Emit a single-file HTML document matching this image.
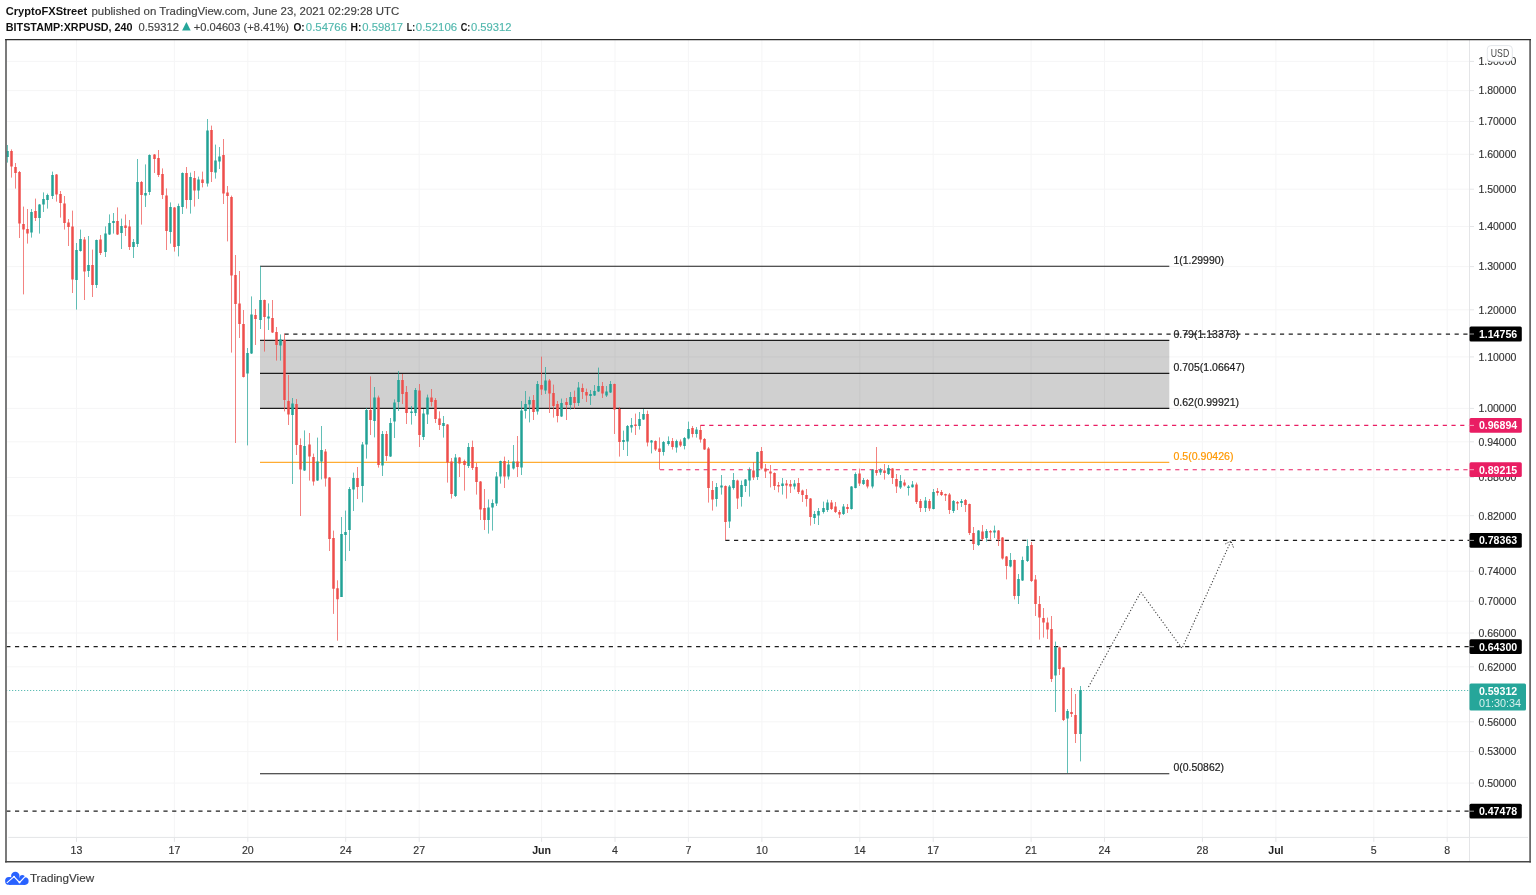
<!DOCTYPE html>
<html lang="en"><head><meta charset="utf-8"><title>XRPUSD chart</title>
<style>
html,body{margin:0;padding:0;background:#fff;}
body{width:1536px;height:895px;overflow:hidden;position:relative;font-family:"Liberation Sans",sans-serif;}
svg{position:absolute;left:0;top:0;display:block;}
text{font-family:"Liberation Sans",sans-serif;}
.ax{font-size:11px;fill:#333;stroke:#333;stroke-width:0.15px;}
.lb{font-size:11px;fill:#fff;}
.fb{font-size:11px;fill:#1c1c1c;stroke:#1c1c1c;stroke-width:0.2px;}
.hd{font-size:11.2px;fill:#424242;stroke:#424242;stroke-width:0.15px;}
.b{font-weight:bold;font-size:11.5px;fill:#111;stroke:none;}
.t{fill:#52b8ae;stroke:#52b8ae;}
</style></head><body>
<svg width="1536" height="895" viewBox="0 0 1536 895">
<rect x="0" y="0" width="1536" height="895" fill="#fff"/>

<g stroke="#f5f5f6" stroke-width="1">
<line x1="6.2" y1="61.4" x2="1469.5" y2="61.4"/>
<line x1="6.2" y1="90.6" x2="1469.5" y2="90.6"/>
<line x1="6.2" y1="121.5" x2="1469.5" y2="121.5"/>
<line x1="6.2" y1="154.3" x2="1469.5" y2="154.3"/>
<line x1="6.2" y1="189.2" x2="1469.5" y2="189.2"/>
<line x1="6.2" y1="226.5" x2="1469.5" y2="226.5"/>
<line x1="6.2" y1="266.6" x2="1469.5" y2="266.6"/>
<line x1="6.2" y1="309.8" x2="1469.5" y2="309.8"/>
<line x1="6.2" y1="356.9" x2="1469.5" y2="356.9"/>
<line x1="6.2" y1="408.4" x2="1469.5" y2="408.4"/>
<line x1="6.2" y1="441.8" x2="1469.5" y2="441.8"/>
<line x1="6.2" y1="477.5" x2="1469.5" y2="477.5"/>
<line x1="6.2" y1="515.7" x2="1469.5" y2="515.7"/>
<line x1="6.2" y1="571.2" x2="1469.5" y2="571.2"/>
<line x1="6.2" y1="601.2" x2="1469.5" y2="601.2"/>
<line x1="6.2" y1="633.0" x2="1469.5" y2="633.0"/>
<line x1="6.2" y1="666.8" x2="1469.5" y2="666.8"/>
<line x1="6.2" y1="721.8" x2="1469.5" y2="721.8"/>
<line x1="6.2" y1="751.6" x2="1469.5" y2="751.6"/>
<line x1="6.2" y1="783.1" x2="1469.5" y2="783.1"/>
<line x1="76.5" y1="39.6" x2="76.5" y2="837.4"/>
<line x1="174.4" y1="39.6" x2="174.4" y2="837.4"/>
<line x1="247.8" y1="39.6" x2="247.8" y2="837.4"/>
<line x1="345.7" y1="39.6" x2="345.7" y2="837.4"/>
<line x1="419.2" y1="39.6" x2="419.2" y2="837.4"/>
<line x1="541.6" y1="39.6" x2="541.6" y2="837.4"/>
<line x1="615.0" y1="39.6" x2="615.0" y2="837.4"/>
<line x1="688.4" y1="39.6" x2="688.4" y2="837.4"/>
<line x1="761.9" y1="39.6" x2="761.9" y2="837.4"/>
<line x1="859.8" y1="39.6" x2="859.8" y2="837.4"/>
<line x1="933.2" y1="39.6" x2="933.2" y2="837.4"/>
<line x1="1031.1" y1="39.6" x2="1031.1" y2="837.4"/>
<line x1="1104.5" y1="39.6" x2="1104.5" y2="837.4"/>
<line x1="1202.4" y1="39.6" x2="1202.4" y2="837.4"/>
<line x1="1275.9" y1="39.6" x2="1275.9" y2="837.4"/>
<line x1="1373.8" y1="39.6" x2="1373.8" y2="837.4"/>
<line x1="1447.2" y1="39.6" x2="1447.2" y2="837.4"/>
</g>
<g stroke="#e4e5e7" stroke-width="1">
<line x1="1469.5" y1="39.6" x2="1469.5" y2="861.5"/>
<line x1="8.3" y1="837.4" x2="1528" y2="837.4"/>
<line x1="1469.5" y1="61.4" x2="1474.0" y2="61.4"/>
<line x1="1469.5" y1="90.6" x2="1474.0" y2="90.6"/>
<line x1="1469.5" y1="121.5" x2="1474.0" y2="121.5"/>
<line x1="1469.5" y1="154.3" x2="1474.0" y2="154.3"/>
<line x1="1469.5" y1="189.2" x2="1474.0" y2="189.2"/>
<line x1="1469.5" y1="226.5" x2="1474.0" y2="226.5"/>
<line x1="1469.5" y1="266.6" x2="1474.0" y2="266.6"/>
<line x1="1469.5" y1="309.8" x2="1474.0" y2="309.8"/>
<line x1="1469.5" y1="356.9" x2="1474.0" y2="356.9"/>
<line x1="1469.5" y1="408.4" x2="1474.0" y2="408.4"/>
<line x1="1469.5" y1="441.8" x2="1474.0" y2="441.8"/>
<line x1="1469.5" y1="477.5" x2="1474.0" y2="477.5"/>
<line x1="1469.5" y1="515.7" x2="1474.0" y2="515.7"/>
<line x1="1469.5" y1="571.2" x2="1474.0" y2="571.2"/>
<line x1="1469.5" y1="601.2" x2="1474.0" y2="601.2"/>
<line x1="1469.5" y1="633.0" x2="1474.0" y2="633.0"/>
<line x1="1469.5" y1="666.8" x2="1474.0" y2="666.8"/>
<line x1="1469.5" y1="721.8" x2="1474.0" y2="721.8"/>
<line x1="1469.5" y1="751.6" x2="1474.0" y2="751.6"/>
<line x1="1469.5" y1="783.1" x2="1474.0" y2="783.1"/>
<line x1="76.5" y1="837.4" x2="76.5" y2="841.9"/>
<line x1="174.4" y1="837.4" x2="174.4" y2="841.9"/>
<line x1="247.8" y1="837.4" x2="247.8" y2="841.9"/>
<line x1="345.7" y1="837.4" x2="345.7" y2="841.9"/>
<line x1="419.2" y1="837.4" x2="419.2" y2="841.9"/>
<line x1="541.6" y1="837.4" x2="541.6" y2="841.9"/>
<line x1="615.0" y1="837.4" x2="615.0" y2="841.9"/>
<line x1="688.4" y1="837.4" x2="688.4" y2="841.9"/>
<line x1="761.9" y1="837.4" x2="761.9" y2="841.9"/>
<line x1="859.8" y1="837.4" x2="859.8" y2="841.9"/>
<line x1="933.2" y1="837.4" x2="933.2" y2="841.9"/>
<line x1="1031.1" y1="837.4" x2="1031.1" y2="841.9"/>
<line x1="1104.5" y1="837.4" x2="1104.5" y2="841.9"/>
<line x1="1202.4" y1="837.4" x2="1202.4" y2="841.9"/>
<line x1="1275.9" y1="837.4" x2="1275.9" y2="841.9"/>
<line x1="1373.8" y1="837.4" x2="1373.8" y2="841.9"/>
<line x1="1447.2" y1="837.4" x2="1447.2" y2="841.9"/>
</g>
<rect x="260.0" y="340.4" width="909.3" height="68.0" fill="#000" fill-opacity="0.185"/>
<g stroke="#1c1c1c" stroke-width="1.1">
<line x1="260.0" y1="266.3" x2="1169.3" y2="266.3"/>
<line x1="260.0" y1="340.4" x2="1169.3" y2="340.4"/>
<line x1="260.0" y1="373.4" x2="1169.3" y2="373.4"/>
<line x1="260.0" y1="408.4" x2="1169.3" y2="408.4"/>
<line x1="260.0" y1="773.7" x2="1169.3" y2="773.7"/>
</g>
<line x1="260.0" y1="462.3" x2="1169.3" y2="462.3" stroke="#ff9800" stroke-width="1"/>
<line x1="284.5" y1="334.0" x2="1469.5" y2="334.0" stroke="#1e1e1e" stroke-width="1.25" stroke-dasharray="4.2 4.532"/>
<line x1="700.5" y1="425.4" x2="1469.5" y2="425.4" stroke="#e91e63" stroke-width="1.15" stroke-dasharray="4.2 4.532"/>
<line x1="660.0" y1="469.7" x2="1469.5" y2="469.7" stroke="#e91e63" stroke-width="1.15" stroke-dasharray="4.2 4.532"/>
<line x1="725.3" y1="540.4" x2="1469.5" y2="540.4" stroke="#1e1e1e" stroke-width="1.25" stroke-dasharray="4.2 4.532"/>
<line x1="6.24" y1="646.7" x2="1469.5" y2="646.7" stroke="#1e1e1e" stroke-width="1.25" stroke-dasharray="4.2 4.532"/>
<line x1="6.24" y1="811.2" x2="1469.5" y2="811.2" stroke="#1e1e1e" stroke-width="1.25" stroke-dasharray="4.2 4.532"/>
<line x1="6.2" y1="690.5" x2="1469.5" y2="690.5" stroke="#26a69a" stroke-width="1" stroke-dasharray="1 2" opacity="0.9"/>
<path d="M7.50 145.0V162.6M31.50 209.0V237.6M39.50 204.0V233.6M43.50 192.4V212.0M47.50 193.6V208.6M52.50 171.6V199.0M76.50 243.0V309.6M80.50 229.6V251.6M88.50 236.0V277.0M96.50 239.6V288.0M105.50 226.4V257.0M109.50 214.4V235.0M113.50 213.0V233.6M121.50 218.6V249.0M133.50 239.0V258.0M137.50 159.0V247.0M145.50 164.4V207.0M149.50 154.4V195.0M170.50 202.4V243.6M178.50 203.6V256.4M182.50 172.4V214.0M190.50 172.6V213.6M198.50 176.6V199.0M207.50 119.0V186.6M215.50 144.6V178.6M219.50 147.0V169.0M247.50 348.0V445.4M251.50 296.4V354.0M260.50 266.4V329.0M268.50 303.4V330.0M280.50 334.4V360.6M292.50 398.0V484.0M304.50 430.4V471.0M317.50 437.6V481.0M321.50 426.0V479.4M341.50 517.0V597.0M345.50 510.6V561.0M349.50 487.0V551.0M353.50 472.6V511.0M362.50 442.0V502.4M366.50 408.0V458.6M374.50 387.0V437.4M382.50 431.0V476.0M390.50 418.0V457.0M394.50 399.4V438.0M398.50 371.0V411.0M411.50 406.0V424.6M415.50 388.0V416.0M423.50 409.0V440.0M427.50 394.6V424.0M443.50 416.0V437.6M455.50 454.0V497.0M468.50 443.0V468.0M488.50 499.4V533.6M492.50 499.4V530.6M496.50 472.0V506.0M500.50 460.6V483.6M508.50 460.0V479.6M513.50 445.0V469.6M521.50 401.0V475.0M525.50 391.0V418.6M529.50 396.6V422.4M537.50 381.0V414.6M545.50 367.0V394.0M561.50 398.6V417.0M570.50 392.0V409.6M578.50 382.0V406.0M590.50 390.0V405.0M594.50 385.0V396.0M598.50 367.6V392.0M606.50 386.0V397.0M610.50 381.0V393.0M623.50 430.6V450.0M627.50 425.0V456.0M631.50 418.0V432.6M639.50 412.0V429.6M643.50 409.0V420.0M651.50 440.0V453.4M663.50 441.0V455.6M668.50 436.4V445.6M676.50 439.6V452.6M684.50 437.0V449.4M688.50 421.6V439.4M696.50 427.0V437.6M716.50 483.0V506.6M721.50 475.0V494.6M729.50 485.0V528.0M733.50 473.0V489.6M741.50 480.6V506.6M745.50 479.0V492.0M749.50 467.4V496.6M757.50 451.6V480.0M782.50 478.0V494.6M794.50 480.0V489.4M814.50 511.0V524.0M818.50 508.0V525.0M823.50 501.6V513.6M827.50 499.6V512.0M843.50 504.0V515.0M851.50 486.0V509.6M855.50 472.4V488.4M863.50 478.0V485.0M872.50 469.0V488.4M880.50 468.0V475.0M888.50 465.0V475.0M900.50 475.0V489.0M908.50 485.0V495.6M912.50 481.0V487.6M925.50 497.0V512.0M933.50 489.0V509.4M953.50 500.0V513.0M961.50 499.0V507.0M978.50 530.0V546.0M986.50 529.0V541.6M994.50 525.6V538.0M1010.50 553.0V567.4M1018.50 574.0V604.0M1022.50 556.6V581.0M1027.50 539.4V562.0M1055.50 641.6V712.0M1067.50 709.0V773.0M1080.50 686.0V761.4" stroke="#26a69a" stroke-width="1" fill="none" opacity="0.72"/>
<path d="M7.50 151.0V157.0M31.50 212.0V232.6M39.50 204.4V218.0M43.50 199.0V204.6M47.50 195.0V200.0M52.50 175.0V196.0M76.50 250.0V280.0M80.50 239.0V251.0M88.50 265.0V271.0M96.50 240.0V285.0M105.50 233.6V252.0M109.50 223.0V234.4M113.50 221.0V223.0M121.50 226.0V233.0M133.50 242.0V247.0M137.50 182.0V244.0M145.50 193.0V195.4M149.50 155.0V192.0M170.50 207.0V232.0M178.50 206.0V246.0M182.50 173.0V207.0M190.50 177.0V200.0M198.50 179.4V190.6M207.50 130.4V183.4M215.50 160.6V172.4M219.50 156.6V161.4M247.50 353.0V373.6M251.50 314.6V353.6M260.50 300.0V320.0M268.50 316.6V318.6M280.50 339.6V345.4M292.50 403.4V415.0M304.50 446.0V470.6M317.50 461.4V480.6M321.50 450.0V461.4M341.50 534.0V596.9M345.50 532.0V535.0M349.50 489.0V530.0M353.50 478.0V489.6M362.50 444.4V486.0M366.50 410.0V444.4M374.50 397.6V421.0M382.50 434.0V465.6M390.50 423.0V456.6M394.50 402.4V421.6M398.50 380.0V402.0M411.50 411.6V413.0M415.50 390.0V413.0M423.50 413.6V437.0M427.50 397.6V414.4M443.50 423.0V426.0M455.50 457.4V496.0M468.50 447.0V466.0M488.50 507.4V520.0M492.50 503.0V507.4M496.50 476.4V503.4M500.50 461.0V476.4M508.50 464.6V476.4M513.50 461.6V468.6M521.50 410.6V467.6M525.50 404.0V411.0M529.50 400.0V404.4M537.50 384.0V411.6M545.50 380.6V390.6M561.50 403.0V416.6M570.50 397.0V405.0M578.50 387.6V403.0M590.50 394.0V396.0M594.50 391.0V395.6M598.50 386.0V391.6M606.50 391.6V395.6M610.50 384.0V392.4M623.50 440.0V442.0M627.50 426.0V441.6M631.50 425.0V427.6M639.50 419.0V426.0M643.50 414.0V419.4M651.50 440.4V442.4M663.50 442.0V452.0M668.50 441.0V444.0M676.50 441.0V447.4M684.50 438.0V446.0M688.50 429.0V438.4M696.50 429.6V434.0M716.50 487.0V499.0M721.50 485.6V487.4M729.50 486.4V521.6M733.50 480.0V488.0M741.50 485.0V497.0M745.50 479.6V486.0M749.50 470.0V480.4M757.50 452.0V477.0M782.50 483.6V486.0M794.50 483.4V486.6M814.50 514.0V518.0M818.50 511.0V515.6M823.50 508.0V512.0M827.50 502.4V510.0M843.50 506.4V514.0M851.50 486.6V509.0M855.50 474.0V488.0M863.50 480.0V484.0M872.50 470.0V486.4M880.50 470.0V472.4M888.50 468.0V474.0M900.50 481.0V487.6M908.50 486.4V488.0M912.50 484.4V487.2M925.50 500.6V508.0M933.50 492.0V509.0M953.50 501.0V511.0M961.50 501.0V503.0M978.50 530.4V545.0M986.50 531.0V538.0M994.50 530.4V532.6M1010.50 560.0V566.6M1018.50 579.0V596.0M1022.50 560.0V580.4M1027.50 546.0V561.0M1055.50 647.0V675.6M1067.50 711.0V718.6M1080.50 690.0V734.0" stroke="#22a296" stroke-width="2.5" fill="none"/>
<path d="M11.50 149.4V177.6M15.50 163.0V188.6M19.50 171.0V238.0M23.50 206.6V294.4M27.50 209.0V243.6M35.50 198.6V221.0M56.50 174.0V201.6M60.50 191.0V217.6M64.50 196.0V229.6M68.50 219.0V246.0M72.50 210.6V293.0M84.50 237.0V300.0M92.50 249.6V297.0M100.50 235.0V255.0M117.50 207.4V235.0M125.50 214.4V236.0M129.50 220.0V250.0M141.50 181.0V224.6M154.50 154.0V173.0M158.50 150.0V177.0M162.50 168.4V199.0M166.50 188.4V250.0M174.50 207.0V251.6M186.50 167.0V208.6M194.50 171.0V206.6M202.50 171.6V187.4M211.50 125.6V182.0M223.50 139.0V204.0M227.50 186.0V241.4M231.50 195.6V352.6M235.50 255.0V443.0M239.50 271.0V338.0M243.50 310.0V377.5M255.50 309.0V345.0M264.50 299.6V351.6M272.50 300.0V333.0M276.50 327.0V360.6M284.50 333.6V411.4M288.50 375.0V425.0M296.50 399.0V455.0M300.50 438.4V516.0M309.50 433.0V480.6M313.50 453.6V485.6M325.50 449.0V486.6M329.50 477.0V551.0M333.50 530.6V613.9M337.50 580.3V640.7M357.50 467.0V499.0M370.50 376.4V435.0M378.50 395.6V467.6M386.50 431.0V461.0M402.50 374.0V404.0M406.50 386.0V424.0M419.50 384.0V447.0M431.50 389.0V406.4M435.50 398.0V423.0M439.50 411.4V430.0M447.50 424.0V482.6M451.50 458.0V498.6M459.50 457.0V477.0M464.50 459.6V490.6M472.50 440.6V470.0M476.50 463.0V494.6M480.50 481.0V520.0M484.50 489.0V530.0M504.50 456.6V488.0M517.50 436.0V477.0M533.50 395.0V420.0M541.50 356.6V395.0M549.50 379.0V413.0M553.50 384.6V417.6M557.50 401.0V422.4M566.50 398.0V420.0M574.50 390.6V409.0M582.50 383.6V399.0M586.50 388.6V402.0M602.50 382.0V398.0M614.50 383.6V434.0M619.50 407.0V456.6M635.50 413.6V435.0M647.50 410.6V446.4M655.50 440.4V451.0M659.50 437.4V469.6M672.50 438.0V449.6M680.50 439.4V447.0M692.50 426.0V437.4M700.50 425.0V442.6M704.50 438.0V450.0M708.50 447.0V502.6M712.50 481.0V510.6M725.50 485.4V540.0M737.50 479.6V509.0M753.50 462.0V480.0M761.50 447.0V469.6M765.50 464.0V478.0M770.50 465.0V487.4M774.50 472.4V490.0M778.50 482.0V492.4M786.50 480.0V498.6M790.50 480.0V493.0M798.50 478.0V494.0M802.50 489.6V502.0M806.50 489.0V506.6M810.50 498.0V525.6M831.50 500.0V510.0M835.50 502.0V513.0M839.50 510.0V518.0M847.50 504.0V513.0M859.50 468.6V486.0M867.50 479.0V488.4M876.50 447.0V475.6M884.50 464.0V479.6M892.50 468.0V484.0M896.50 474.0V493.0M904.50 479.6V486.6M916.50 482.6V504.0M920.50 499.0V512.0M929.50 499.0V511.0M937.50 488.0V495.6M941.50 490.0V496.0M945.50 493.6V501.0M949.50 493.0V514.0M957.50 501.0V510.0M965.50 499.0V512.0M969.50 503.6V535.0M973.50 527.0V550.0M982.50 525.0V541.0M990.50 530.0V539.6M998.50 530.0V546.0M1002.50 537.0V559.6M1006.50 556.0V579.4M1014.50 559.6V599.4M1031.50 542.0V582.0M1035.50 575.0V616.0M1039.50 596.0V639.6M1043.50 608.0V637.6M1047.50 617.6V639.0M1051.50 616.0V682.0M1059.50 646.6V675.0M1063.50 667.0V721.0M1071.50 688.0V717.0M1075.50 694.0V743.0" stroke="#ef5350" stroke-width="1" fill="none" opacity="0.72"/>
<path d="M11.50 151.0V166.6M15.50 167.0V173.0M19.50 172.0V223.6M23.50 224.0V229.4M27.50 229.0V233.4M35.50 211.0V218.0M56.50 174.6V194.6M60.50 194.0V203.0M64.50 203.4V223.0M68.50 222.4V227.0M72.50 226.4V279.6M84.50 239.6V271.6M92.50 265.0V285.0M100.50 239.6V253.0M117.50 221.0V234.4M125.50 225.6V228.0M129.50 226.4V247.0M141.50 182.0V195.0M154.50 154.4V159.0M158.50 158.0V175.0M162.50 174.0V195.0M166.50 195.6V231.0M174.50 207.4V247.0M186.50 173.0V200.0M194.50 178.0V190.6M202.50 179.6V183.0M211.50 130.0V172.0M223.50 155.0V193.6M227.50 192.4V196.0M231.50 197.0V275.6M235.50 275.0V304.0M239.50 303.4V324.0M243.50 324.0V377.0M255.50 315.0V319.0M264.50 300.0V317.0M272.50 318.0V332.6M276.50 332.0V345.0M284.50 340.0V400.0M288.50 401.0V414.4M296.50 404.0V445.0M300.50 445.0V469.6M309.50 444.4V456.6M313.50 457.0V481.6M325.50 451.6V478.6M329.50 477.6V539.0M333.50 538.0V588.8M337.50 588.3V599.3M357.50 478.0V487.0M370.50 410.0V420.0M378.50 397.6V465.0M386.50 434.0V456.0M402.50 380.0V394.0M406.50 392.0V413.0M419.50 390.6V435.0M431.50 397.6V402.0M435.50 400.0V419.0M439.50 418.6V425.0M447.50 424.4V462.6M451.50 461.6V494.0M459.50 457.4V463.6M464.50 461.0V465.0M472.50 447.0V468.0M476.50 467.0V482.0M480.50 481.4V509.6M484.50 508.0V520.0M504.50 461.0V476.4M517.50 461.6V467.0M533.50 400.0V412.0M541.50 385.0V389.4M549.50 380.6V393.4M553.50 393.0V406.0M557.50 404.0V416.0M566.50 402.0V405.0M574.50 397.0V403.0M582.50 388.0V392.0M586.50 392.0V395.6M602.50 386.0V393.6M614.50 384.0V409.4M619.50 409.0V442.0M635.50 424.6V426.0M647.50 414.0V442.4M655.50 441.0V449.4M659.50 448.6V452.0M672.50 441.0V447.0M680.50 441.6V445.6M692.50 428.0V434.0M700.50 430.0V439.6M704.50 439.0V449.4M708.50 448.4V488.0M712.50 490.0V499.4M725.50 486.0V522.0M737.50 480.6V498.6M753.50 470.4V477.6M761.50 451.0V468.6M765.50 468.6V471.6M770.50 471.6V473.6M774.50 473.0V486.0M778.50 485.0V486.4M786.50 483.6V485.6M790.50 484.0V486.4M798.50 483.0V492.0M802.50 490.4V495.0M806.50 495.0V499.0M810.50 498.4V517.0M831.50 502.4V509.0M835.50 506.6V512.0M839.50 512.0V514.4M847.50 507.0V509.0M859.50 473.6V483.6M867.50 480.0V486.4M876.50 470.0V473.0M884.50 470.4V473.0M892.50 468.4V478.0M896.50 479.0V486.4M904.50 482.4V485.6M916.50 484.4V502.0M920.50 501.0V508.0M929.50 501.0V508.4M937.50 491.0V493.0M941.50 492.0V495.0M945.50 494.0V495.6M949.50 494.4V510.0M957.50 502.0V503.6M965.50 500.0V505.0M969.50 504.0V533.0M973.50 533.0V544.0M982.50 531.6V539.0M990.50 531.0V532.4M998.50 530.6V539.4M1002.50 537.6V558.4M1006.50 556.4V566.0M1014.50 560.0V596.0M1031.50 545.0V581.0M1035.50 579.6V604.0M1039.50 604.0V617.6M1043.50 618.0V622.6M1047.50 622.6V629.6M1051.50 629.0V679.0M1059.50 647.4V669.0M1063.50 667.6V720.0M1071.50 712.0V714.0M1075.50 715.0V734.0" stroke="#ee4e4b" stroke-width="2.5" fill="none"/>
<g stroke="#3a3a3a" stroke-width="1.1" fill="none" stroke-dasharray="1.15 1.95">
<path d="M1088.5 687L1140.8 592L1182 648.4L1231 541.1"/>
</g>
<path d="M1225.3 543.9L1231 541.1L1233.6 547.8" stroke="#3a3a3a" stroke-width="1" fill="none" stroke-dasharray="1.2 1.2"/>
<text x="1173.5" y="264.1" class="fb" textLength="50.5" lengthAdjust="spacingAndGlyphs">1(1.29990)</text>
<text x="1173.5" y="338.0" class="fb" textLength="65.5" lengthAdjust="spacingAndGlyphs">0.79(1.13373)</text>
<text x="1173.5" y="371.0" class="fb" textLength="71.3" lengthAdjust="spacingAndGlyphs">0.705(1.06647)</text>
<text x="1173.5" y="406.2" class="fb" textLength="65.5" lengthAdjust="spacingAndGlyphs">0.62(0.99921)</text>
<text x="1173.5" y="459.90000000000003" class="fb" textLength="60" lengthAdjust="spacingAndGlyphs" style="fill:#ff9800;stroke:#ff9800">0.5(0.90426)</text>
<text x="1173.5" y="771.3000000000001" class="fb" textLength="50.5" lengthAdjust="spacingAndGlyphs">0(0.50862)</text>
<text x="1478.4" y="65.2" class="ax" textLength="38" lengthAdjust="spacingAndGlyphs">1.90000</text>
<text x="1478.4" y="94.4" class="ax" textLength="38" lengthAdjust="spacingAndGlyphs">1.80000</text>
<text x="1478.4" y="125.3" class="ax" textLength="38" lengthAdjust="spacingAndGlyphs">1.70000</text>
<text x="1478.4" y="158.1" class="ax" textLength="38" lengthAdjust="spacingAndGlyphs">1.60000</text>
<text x="1478.4" y="193.0" class="ax" textLength="38" lengthAdjust="spacingAndGlyphs">1.50000</text>
<text x="1478.4" y="230.3" class="ax" textLength="38" lengthAdjust="spacingAndGlyphs">1.40000</text>
<text x="1478.4" y="270.4" class="ax" textLength="38" lengthAdjust="spacingAndGlyphs">1.30000</text>
<text x="1478.4" y="313.6" class="ax" textLength="38" lengthAdjust="spacingAndGlyphs">1.20000</text>
<text x="1478.4" y="360.7" class="ax" textLength="38" lengthAdjust="spacingAndGlyphs">1.10000</text>
<text x="1478.4" y="412.2" class="ax" textLength="38" lengthAdjust="spacingAndGlyphs">1.00000</text>
<text x="1478.4" y="445.6" class="ax" textLength="38" lengthAdjust="spacingAndGlyphs">0.94000</text>
<text x="1478.4" y="481.3" class="ax" textLength="38" lengthAdjust="spacingAndGlyphs">0.88000</text>
<text x="1478.4" y="519.5" class="ax" textLength="38" lengthAdjust="spacingAndGlyphs">0.82000</text>
<text x="1478.4" y="575.0" class="ax" textLength="38" lengthAdjust="spacingAndGlyphs">0.74000</text>
<text x="1478.4" y="605.0" class="ax" textLength="38" lengthAdjust="spacingAndGlyphs">0.70000</text>
<text x="1478.4" y="636.8" class="ax" textLength="38" lengthAdjust="spacingAndGlyphs">0.66000</text>
<text x="1478.4" y="670.6" class="ax" textLength="38" lengthAdjust="spacingAndGlyphs">0.62000</text>
<text x="1478.4" y="725.6" class="ax" textLength="38" lengthAdjust="spacingAndGlyphs">0.56000</text>
<text x="1478.4" y="755.4" class="ax" textLength="38" lengthAdjust="spacingAndGlyphs">0.53000</text>
<text x="1478.4" y="786.9" class="ax" textLength="38" lengthAdjust="spacingAndGlyphs">0.50000</text>
<rect x="1487.3" y="45.6" width="25" height="15.6" rx="3.5" fill="#fff" stroke="#e3e6ea" stroke-width="1"/>
<text x="1490.8" y="57.3" class="ax" textLength="18.4" lengthAdjust="spacingAndGlyphs" style="fill:#484848;stroke:none">USD</text>
<rect x="1469.5" y="326.6" width="52.3" height="14.8" rx="1.5" fill="#000"/>
<line x1="1469.5" y1="334.0" x2="1474.0" y2="334.0" stroke="#fff" stroke-opacity="0.6" stroke-width="1"/>
<text x="1478.9" y="338.0" class="lb" textLength="38.3" lengthAdjust="spacingAndGlyphs" style="font-weight:bold">1.14756</text>
<rect x="1469.5" y="418.0" width="52.3" height="14.8" rx="1.5" fill="#e91e63"/>
<line x1="1469.5" y1="425.4" x2="1474.0" y2="425.4" stroke="#fff" stroke-opacity="0.6" stroke-width="1"/>
<text x="1478.9" y="429.4" class="lb" textLength="38.3" lengthAdjust="spacingAndGlyphs" style="font-weight:bold">0.96894</text>
<rect x="1469.5" y="462.3" width="52.3" height="14.8" rx="1.5" fill="#e91e63"/>
<line x1="1469.5" y1="469.7" x2="1474.0" y2="469.7" stroke="#fff" stroke-opacity="0.6" stroke-width="1"/>
<text x="1478.9" y="473.7" class="lb" textLength="38.3" lengthAdjust="spacingAndGlyphs" style="font-weight:bold">0.89215</text>
<rect x="1469.5" y="533.0" width="52.3" height="14.8" rx="1.5" fill="#000"/>
<line x1="1469.5" y1="540.4" x2="1474.0" y2="540.4" stroke="#fff" stroke-opacity="0.6" stroke-width="1"/>
<text x="1478.9" y="544.4" class="lb" textLength="38.3" lengthAdjust="spacingAndGlyphs" style="font-weight:bold">0.78363</text>
<rect x="1469.5" y="639.3" width="52.3" height="14.8" rx="1.5" fill="#000"/>
<line x1="1469.5" y1="646.7" x2="1474.0" y2="646.7" stroke="#fff" stroke-opacity="0.6" stroke-width="1"/>
<text x="1478.9" y="650.7" class="lb" textLength="38.3" lengthAdjust="spacingAndGlyphs" style="font-weight:bold">0.64300</text>
<rect x="1469.5" y="803.8" width="52.3" height="14.8" rx="1.5" fill="#000"/>
<line x1="1469.5" y1="811.2" x2="1474.0" y2="811.2" stroke="#fff" stroke-opacity="0.6" stroke-width="1"/>
<text x="1478.9" y="815.2" class="lb" textLength="38.3" lengthAdjust="spacingAndGlyphs" style="font-weight:bold">0.47478</text>
<rect x="1469.5" y="683.4" width="56.5" height="27" rx="1.5" fill="#26a69a"/>
<text x="1478.9" y="694.8" class="lb" textLength="38.3" lengthAdjust="spacingAndGlyphs" style="font-weight:bold">0.59312</text>
<text x="1478.9" y="707.3" class="lb" textLength="42.1" lengthAdjust="spacingAndGlyphs" style="fill:#d9f0ed">01:30:34</text>
<text x="76.5" y="853.8" class="ax" text-anchor="middle" style="font-size:10.6px">13</text>
<text x="174.4" y="853.8" class="ax" text-anchor="middle" style="font-size:10.6px">17</text>
<text x="247.8" y="853.8" class="ax" text-anchor="middle" style="font-size:10.6px">20</text>
<text x="345.7" y="853.8" class="ax" text-anchor="middle" style="font-size:10.6px">24</text>
<text x="419.2" y="853.8" class="ax" text-anchor="middle" style="font-size:10.6px">27</text>
<text x="541.6" y="853.8" class="ax" text-anchor="middle" style="font-size:10.6px;font-weight:bold;fill:#222;stroke:none">Jun</text>
<text x="615.0" y="853.8" class="ax" text-anchor="middle" style="font-size:10.6px">4</text>
<text x="688.4" y="853.8" class="ax" text-anchor="middle" style="font-size:10.6px">7</text>
<text x="761.9" y="853.8" class="ax" text-anchor="middle" style="font-size:10.6px">10</text>
<text x="859.8" y="853.8" class="ax" text-anchor="middle" style="font-size:10.6px">14</text>
<text x="933.2" y="853.8" class="ax" text-anchor="middle" style="font-size:10.6px">17</text>
<text x="1031.1" y="853.8" class="ax" text-anchor="middle" style="font-size:10.6px">21</text>
<text x="1104.5" y="853.8" class="ax" text-anchor="middle" style="font-size:10.6px">24</text>
<text x="1202.4" y="853.8" class="ax" text-anchor="middle" style="font-size:10.6px">28</text>
<text x="1275.9" y="853.8" class="ax" text-anchor="middle" style="font-size:10.6px;font-weight:bold;fill:#222;stroke:none">Jul</text>
<text x="1373.8" y="853.8" class="ax" text-anchor="middle" style="font-size:10.6px">5</text>
<text x="1447.2" y="853.8" class="ax" text-anchor="middle" style="font-size:10.6px">8</text>
<line x1="6.0" y1="38.9" x2="6.0" y2="862.4" stroke="#6c6c6c" stroke-width="1.8"/>
<line x1="1530.1" y1="38.9" x2="1530.1" y2="862.4" stroke="#6a6a6a" stroke-width="1.8"/>
<line x1="5.1" y1="39.6" x2="1531" y2="39.6" stroke="#2c2c2c" stroke-width="1.25"/>
<line x1="5.1" y1="861.65" x2="1531" y2="861.65" stroke="#484848" stroke-width="1.5"/>
<text x="5.8" y="15.4" class="hd b" textLength="81.3" lengthAdjust="spacingAndGlyphs">CryptoFXStreet</text>
<text x="91.5" y="15.4" class="hd" textLength="307.8" lengthAdjust="spacingAndGlyphs">published on TradingView.com, June 23, 2021 02:29:28 UTC</text>
<text x="5.8" y="30.6" class="hd b" textLength="126.8" lengthAdjust="spacingAndGlyphs">BITSTAMP:XRPUSD, 240</text>
<text x="138.5" y="30.6" class="hd" textLength="40.5" lengthAdjust="spacingAndGlyphs">0.59312</text>
<text x="193.8" y="30.6" class="hd" textLength="95.2" lengthAdjust="spacingAndGlyphs">+0.04603 (+8.41%)</text>
<text x="293.4" y="30.6" class="hd b" textLength="11.3" lengthAdjust="spacingAndGlyphs">O:</text>
<text x="305.8" y="30.6" class="hd t" textLength="41.2" lengthAdjust="spacingAndGlyphs">0.54766</text>
<text x="350.6" y="30.6" class="hd b" textLength="10.9" lengthAdjust="spacingAndGlyphs">H:</text>
<text x="362.3" y="30.6" class="hd t" textLength="40.8" lengthAdjust="spacingAndGlyphs">0.59817</text>
<text x="406.8" y="30.6" class="hd b" textLength="8.3" lengthAdjust="spacingAndGlyphs">L:</text>
<text x="415.8" y="30.6" class="hd t" textLength="41.3" lengthAdjust="spacingAndGlyphs">0.52106</text>
<text x="460.8" y="30.6" class="hd b" textLength="9.6" lengthAdjust="spacingAndGlyphs">C:</text>
<text x="471.0" y="30.6" class="hd t" textLength="40.6" lengthAdjust="spacingAndGlyphs">0.59312</text>
<path d="M182.1 30.5L186.4 22.0L190.7 30.5Z" fill="#26a69a"/>
<g fill="#2962ff"><circle cx="9.0" cy="880.9" r="3.9"/><circle cx="24.8" cy="881.1" r="3.8"/><circle cx="15.3" cy="876.0" r="4.2"/><circle cx="22.3" cy="877.6" r="2.7"/><rect x="9" y="877.5" width="15.8" height="7.4"/></g>
<path d="M6.8 882.8L14 876.7L19.5 882.5L25.1 876.6" stroke="#fff" stroke-width="1.1" fill="none" stroke-linejoin="round"/>
<circle cx="14" cy="876.7" r="0.95" fill="#fff"/><circle cx="19.5" cy="882.5" r="0.95" fill="#fff"/>
<text x="29.9" y="881.9" class="hd" textLength="64.2" lengthAdjust="spacingAndGlyphs" style="font-size:11.4px;fill:#3c3c3c;stroke:#3c3c3c">TradingView</text>
</svg>
</body></html>
